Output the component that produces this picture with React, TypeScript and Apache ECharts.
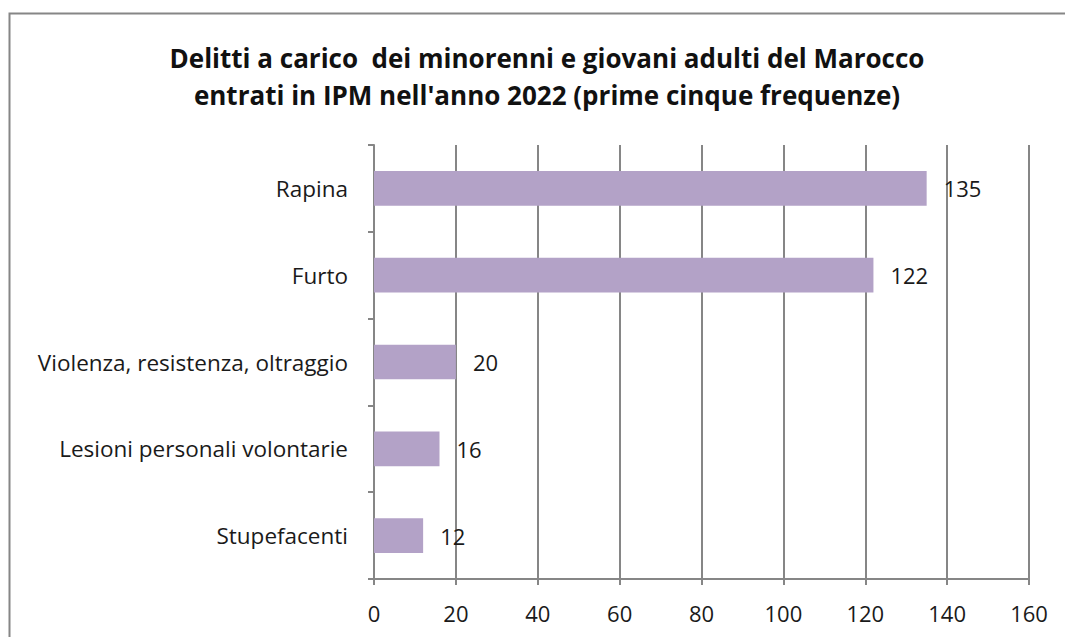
import React, { useEffect, useRef } from "react";
import * as echarts from "echarts";

const titleLines = [
  "Delitti a carico  dei minorenni e giovani adulti del Marocco",
  "entrati in IPM nell'anno 2022 (prime cinque frequenze)",
];
const categories = [
  "Rapina",
  "Furto",
  "Violenza, resistenza, oltraggio",
  "Lesioni personali volontarie",
  "Stupefacenti",
];
const values = [135, 122, 20, 16, 12];
const xMin = 0;
const xMax = 160;
const xInterval = 20;

const FONT = "'Open Sans', sans-serif";
const GRAY = "#868686";

export default function App() {
  const ref = useRef<HTMLDivElement>(null);
  useEffect(() => {
    document.body.style.margin = "0";
    const chart = echarts.init(ref.current!, null, { renderer: "svg" });
    chart.setOption({
      animation: false,
      backgroundColor: "#ffffff",
      title: {
        text: titleLines.join("\n"),
        left: 542,
        top: 34,
        textAlign: "center",
        textStyle: {
          fontFamily: FONT,
          fontWeight: "bold",
          fontSize: 26,
          lineHeight: 37,
          color: "#111111",
        },
      },
      graphic: [
        {
          type: "rect",
          shape: { x: 9.5, y: 13.5, width: 1100, height: 700 },
          style: { fill: "none", stroke: GRAY, lineWidth: 2 },
          silent: true,
        },
      ],
      grid: { left: 374, right: 36, top: 145, bottom: 58, containLabel: false },
      xAxis: {
        type: "value",
        min: xMin,
        max: xMax,
        interval: xInterval,
        axisLine: { show: true, lineStyle: { color: GRAY, width: 2 } },
        axisTick: { show: true, length: 6, lineStyle: { color: GRAY, width: 2 } },
        splitLine: { show: true, lineStyle: { color: GRAY, width: 2 } },
        axisLabel: { fontFamily: FONT, fontSize: 22, color: "#1a1a1a", margin: 23 },
      },
      yAxis: {
        type: "category",
        inverse: true,
        data: categories,
        axisLine: { show: true, lineStyle: { color: GRAY, width: 2 } },
        axisTick: { show: true, length: 6, alignWithLabel: false, lineStyle: { color: GRAY, width: 2 } },
        axisLabel: { fontFamily: FONT, fontSize: 22.5, color: "#1a1a1a", margin: 26 },
      },
      series: [
        {
          type: "bar",
          data: values,
          barWidth: "40%",
          itemStyle: { color: "#b3a2c7" },
          label: {
            show: true,
            position: "right",
            distance: 17,
            fontFamily: FONT,
            fontSize: 22,
            color: "#1a1a1a",
          },
        },
      ],
    });
    return () => chart.dispose();
  }, []);
  return <div ref={ref} style={{ width: 1065, height: 637 }} />;
}
